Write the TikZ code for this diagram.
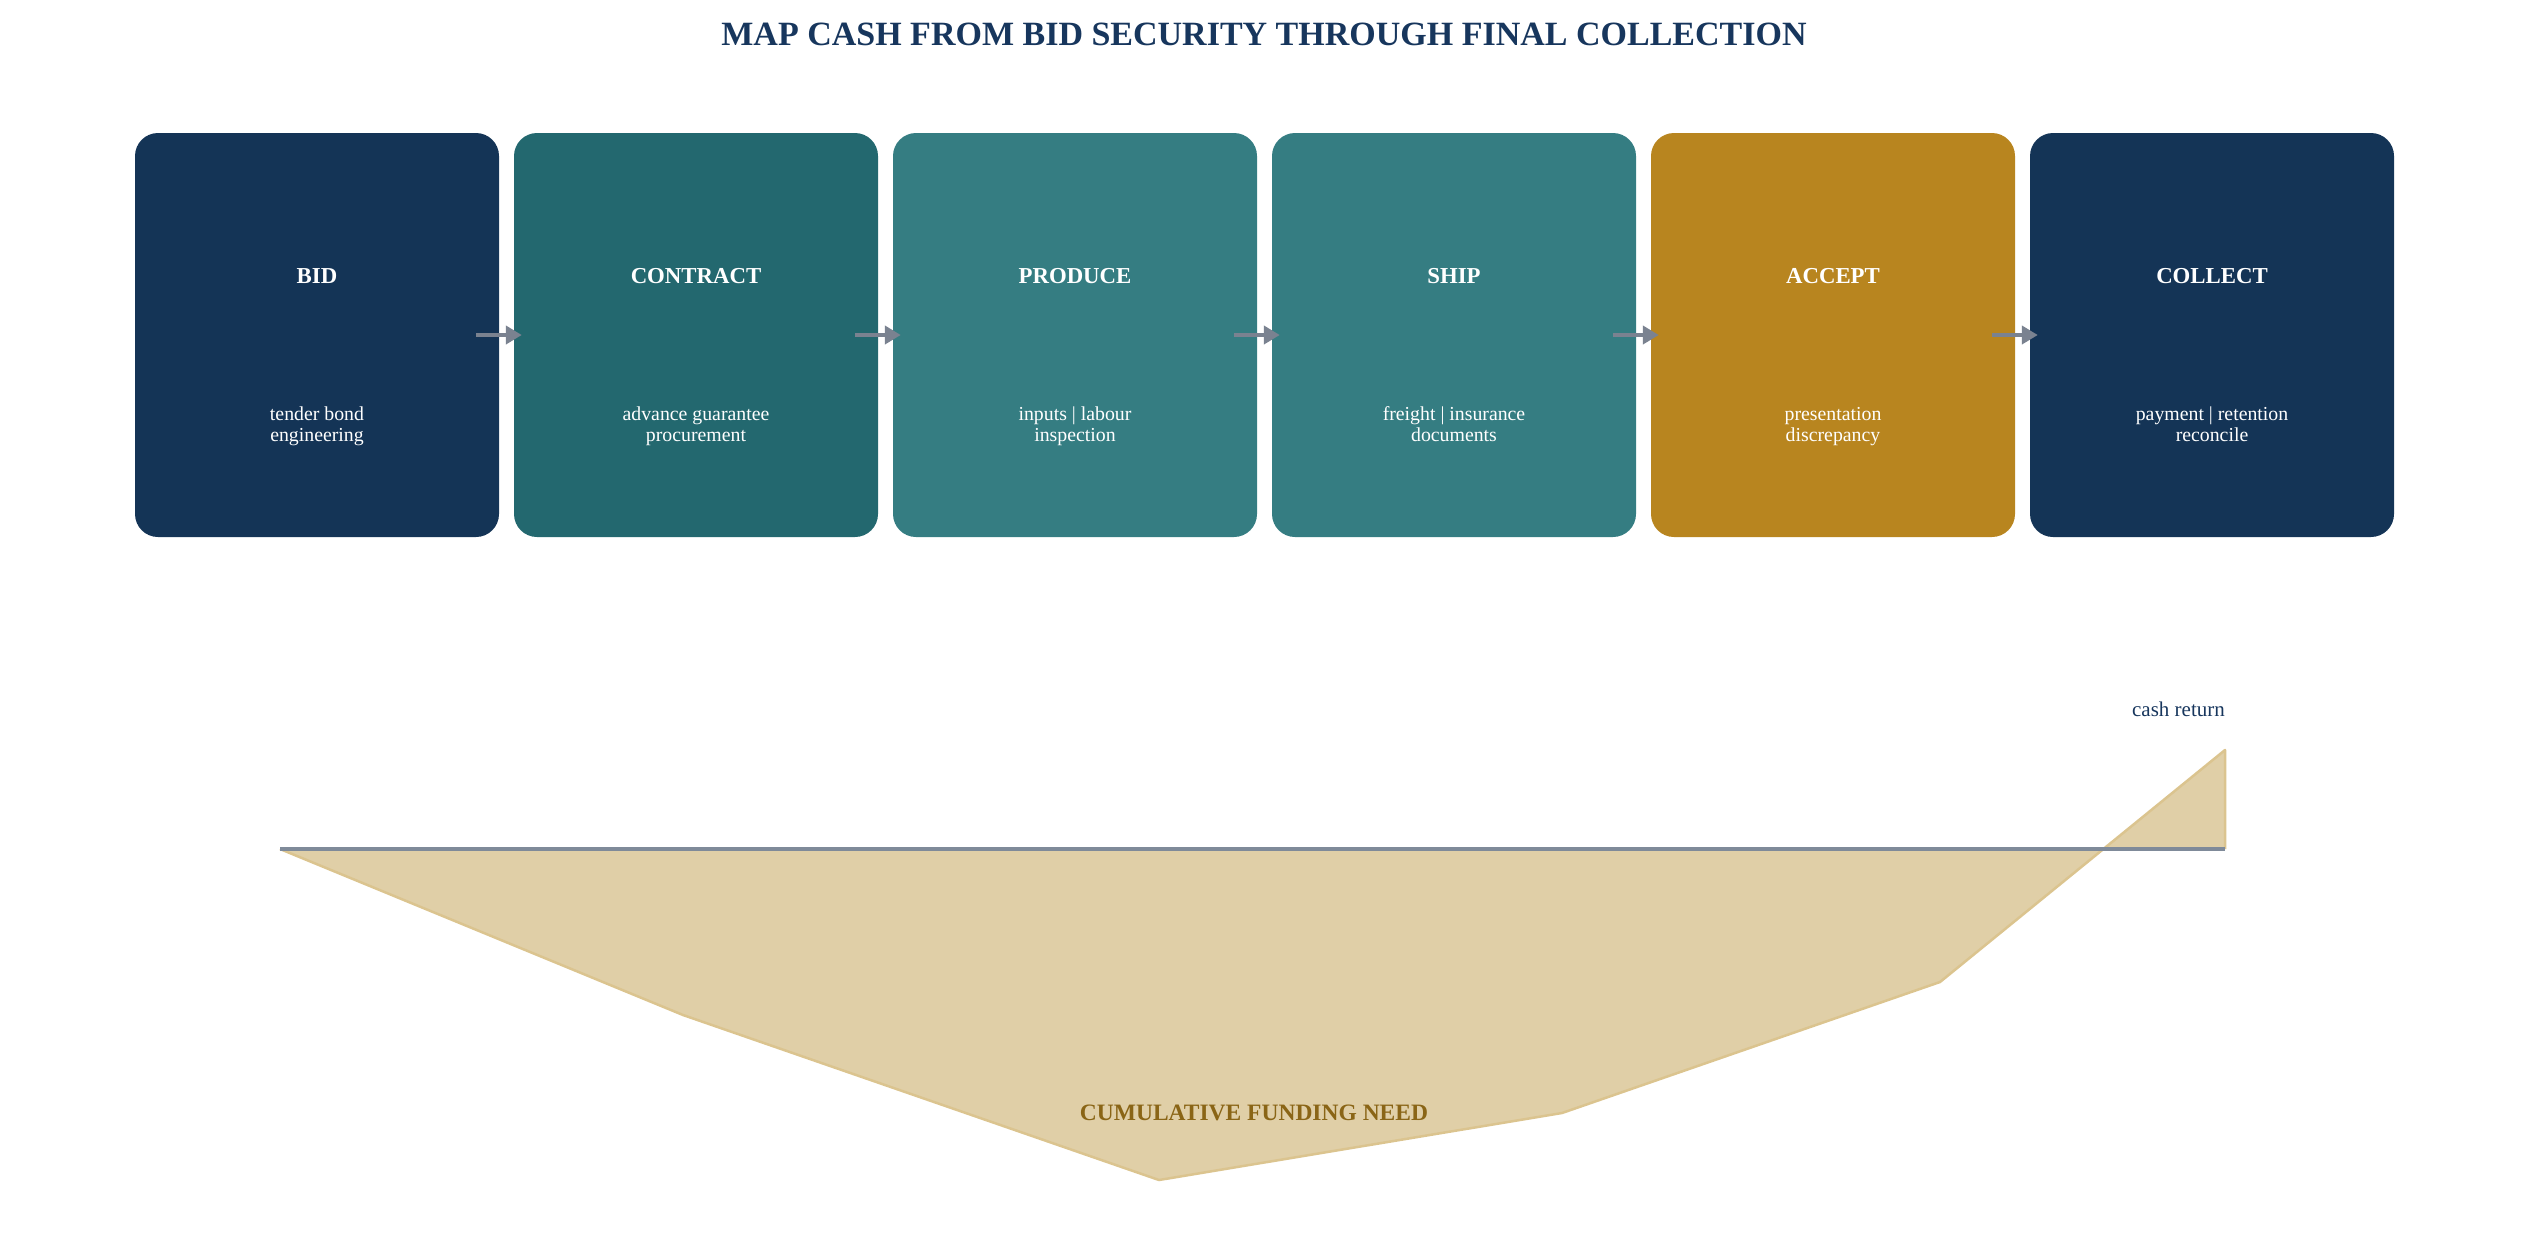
\documentclass[tikz,border=0pt]{standalone}
\usepackage{fontspec}
\setmainfont{Liberation Serif}
\usetikzlibrary{arrows.meta}
\definecolor{navy}{HTML}{143456}
\definecolor{tealA}{HTML}{23686F}
\definecolor{tealB}{HTML}{357D82}
\definecolor{gold}{HTML}{B8851F}
\definecolor{titlec}{HTML}{17365D}
\definecolor{arrowc}{HTML}{7A8290}
\definecolor{axisc}{HTML}{7F8A99}
\definecolor{fundfill}{HTML}{E0CFA7}
\definecolor{fundline}{HTML}{DBC48F}
\definecolor{fundtext}{HTML}{8A6516}
\tikzset{
  stage/.style={draw=none, fill=#1, rounded corners=23pt, minimum width=364pt, minimum height=404pt, inner sep=0pt},
  stagetitle/.style={text=white, anchor=base, font=\fontsize{22.8}{26}\selectfont\bfseries},
  stagesub/.style={text=white, anchor=base, align=center, font=\fontsize{19.8}{21}\selectfont},
  flow/.style={draw=arrowc, line width=4pt, -{Triangle[length=16pt,width=18pt]}},
}
\begin{document}
\begin{tikzpicture}[x=1pt,y=-1pt]
\useasboundingbox (0,0) rectangle (2530,1254);
\node[text=titlec, anchor=base, font=\fontsize{34}{40}\selectfont\bfseries] (title) at (1264,45) {MAP CASH FROM BID SECURITY THROUGH FINAL COLLECTION};

\foreach \i/\col/\ttl/\subA/\subB in {
  1/navy/BID/tender bond/engineering,
  2/tealA/CONTRACT/advance guarantee/procurement,
  3/tealB/PRODUCE/inputs | labour/inspection,
  4/tealB/SHIP/freight | insurance/documents,
  5/gold/ACCEPT/presentation/discrepancy,
  6/navy/COLLECT/payment | retention/reconcile}{
  \node[stage=\col] (b\i) at ({317+379*(\i-1)},335) {};
  \node[stagetitle] (t\i) at ([yshift=52pt]b\i.center) {\ttl};
  \node[stagesub] (s\i) at ([yshift=-106pt]b\i.center) {\subA\\\subB};
}
\foreach \i [evaluate=\i as \j using int(\i+1)] in {1,...,5}{
  \draw[flow] ([xshift=-23pt]b\i.east) -- ([xshift=8pt]b\j.west);
}

% funding chart
\coordinate (p0) at (280,849);
\coordinate (p1) at (683,1015);
\coordinate (p2) at (1159,1180);
\coordinate (p3) at (1562,1113);
\coordinate (p4) at (1940,982);
\coordinate (p5) at (2225,750);
\coordinate (p6) at (2225,849);
\fill[fundfill] (p0) -- (p1) -- (p2) -- (p3) -- (p4) -- (p5) -- (p6) -- cycle;
\draw[fundline, line width=2.5pt, line join=round] (p0) -- (p1) -- (p2) -- (p3) -- (p4) -- (p5) -- (p6);
\draw[axisc, line width=4pt] (p0) -- (p6);
\node[text=titlec, anchor=base east, inner sep=0pt, font=\fontsize{21}{24}\selectfont] (cr) at (2225,716) {cash return};
\node[text=fundtext, anchor=base, inner sep=0pt, font=\fontsize{23.5}{27}\selectfont\bfseries] (fn) at (1254,1120) {CUMULATIVE FUNDING NEED};
\end{tikzpicture}
\end{document}
